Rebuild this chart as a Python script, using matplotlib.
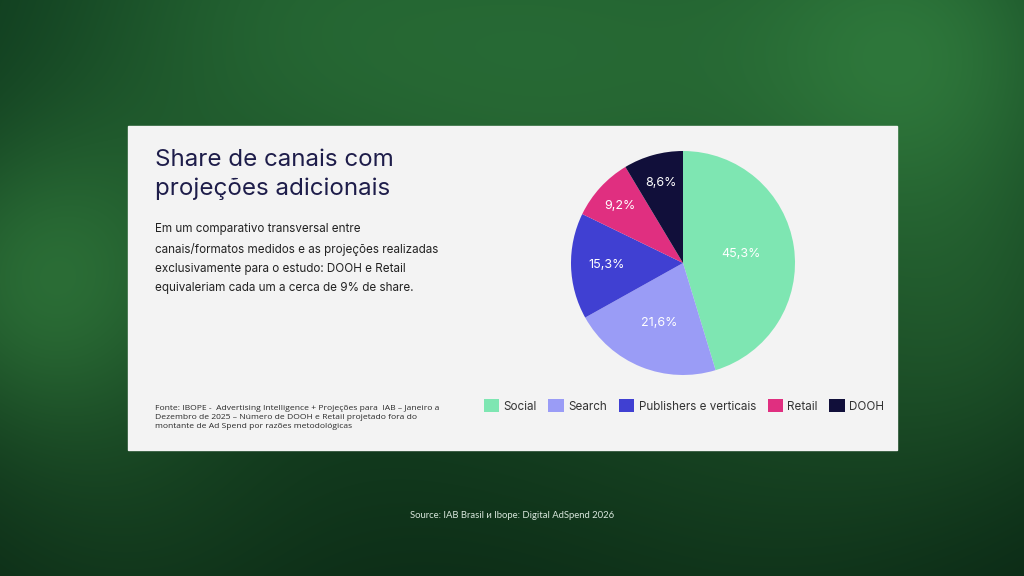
import numpy as np
import matplotlib.pyplot as plt

# data
channels = ["Social", "Search", "Publishers e verticais", "Retail", "DOOH"]
shares = [45.3, 21.6, 15.3, 9.2, 8.6]
colors = ["#7ee6b2", "#9a9cf6", "#4040d2", "#e02f80", "#110f3a"]
label_radius = [0.52, 0.58, 0.68, 0.76, 0.74]

title = "Share de canais com\nprojeções adicionais"
body = ("Em um comparativo transversal entre\n"
        "canais/formatos medidos e as projeções realizadas\n"
        "exclusivamente para o estudo: DOOH e Retail\n"
        "equivaleriam cada um a cerca de 9% de share.")
footnote = ("Fonte: IBOPE -  Advertising Intelligence + Projeções para  IAB – Janeiro a\n"
            "Dezembro de 2025 – Número de DOOH e Retail projetado fora do\n"
            "montante de Ad Spend por razões metodológicas")
source = "Source: IAB Brasil и Ibope: Digital AdSpend 2026"

W, H = 1024, 576
fig = plt.figure(figsize=(W / 100, H / 100), dpi=100)
plt.rcParams['font.family'] = ['Inter', 'DejaVu Sans']

# blurred green background
yy, xx = np.mgrid[0:H, 0:W]
base = np.array([0.05, 0.21, 0.11])
glow = np.array([0.22, 0.55, 0.27])
blobs = [(40, 290, 110, 0.7), (930, 60, 130, 0.6), (600, 70, 200, 0.45),
         (250, 40, 160, 0.35), (980, 330, 120, 0.35), (120, 520, 140, 0.25),
         (800, 480, 160, 0.2), (500, 300, 260, 0.2)]
w = np.zeros((H, W))
for bx, by, s, a in blobs:
    w += a * np.exp(-((xx - bx) ** 2 + (yy - by) ** 2) / (2 * s ** 2))
w = np.clip(w, 0, 1)
shade = 1 - 0.3 * (yy / H)
img = (base[None, None, :] * (1 - w[..., None]) + glow[None, None, :] * w[..., None]) * shade[..., None]
bg = fig.add_axes([0, 0, 1, 1])
bg.imshow(np.clip(img, 0, 1), extent=[0, W, H, 0], aspect='auto')
bg.set_xlim(0, W)
bg.set_ylim(H, 0)
bg.axis('off')

# card
bg.add_patch(plt.Rectangle((128, 126), 769, 324, color="#f3f3f3", zorder=2))

bg.text(155, 149, title, fontsize=17.4, color="#1e1d4a", va='top', ha='left',
        linespacing=1.4, zorder=3)
bg.text(155, 223, body, fontsize=8.4, color="#222222", va='top', ha='left',
        linespacing=1.8, zorder=3)
bg.text(155, 405, footnote, fontsize=6.1, color="#2a2a2a", va='top', ha='left',
        linespacing=1.45, zorder=3, family=['Open Sans', 'DejaVu Sans'])
bg.text(512, 515, source, fontsize=6.8, color="#d8e6dc", va='center', ha='center',
        zorder=3, family=['Lato', 'DejaVu Sans'])

# pie
ax = fig.add_axes([571 / W, (H - 375) / H, 224 / W, 224 / H])
wedges, _ = ax.pie(shares, colors=colors, startangle=90, counterclock=False,
                   wedgeprops=dict(linewidth=0))
ax.set_xlim(-1, 1)
ax.set_ylim(-1, 1)
ax.set_aspect('equal')
for wdg, val, r in zip(wedges, shares, label_radius):
    ang = np.deg2rad((wdg.theta1 + wdg.theta2) / 2)
    ax.text(r * np.cos(ang), r * np.sin(ang), f"{val:.1f}%".replace(".", ","),
            ha='center', va='center', color="white", fontsize=9)

# legend
fig.legend(wedges, channels, loc='center', bbox_to_anchor=(684 / W, 1 - 406 / H),
           ncol=5, frameon=False, fontsize=8.4, handlelength=1.3, handleheight=1.3,
           columnspacing=1.0, handletextpad=0.4, labelcolor="#333333")

fig.savefig("out.png", dpi=100)
